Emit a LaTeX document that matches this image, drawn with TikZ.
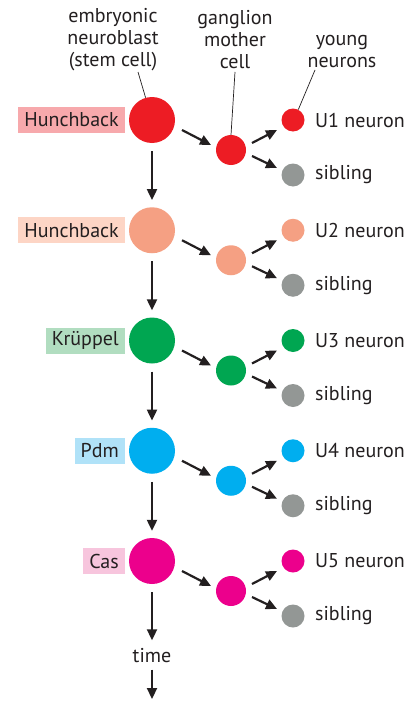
\documentclass[tikz,border=0pt]{standalone}
\usepackage{fontspec}
\setmainfont{PT Sans}
\usetikzlibrary{arrows.meta,calc}
\definecolor{txt}{HTML}{231F20}
\definecolor{cA}{HTML}{ED1C24}\definecolor{bA}{HTML}{F7A9AC}
\definecolor{cB}{HTML}{F5A083}\definecolor{bB}{HTML}{FDD5C5}
\definecolor{cC}{HTML}{00A651}\definecolor{bC}{HTML}{B1DDC0}
\definecolor{cD}{HTML}{00AEEF}\definecolor{bD}{HTML}{B0E2F8}
\definecolor{cE}{HTML}{EC008C}\definecolor{bE}{HTML}{F7C5DD}
\definecolor{cG}{HTML}{939795}
\begin{document}
\begin{tikzpicture}[x=1pt,y=-1pt,
  every node/.style={text=txt,font=\fontsize{20}{22}\selectfont},
  nbcell/.style={circle,inner sep=0pt,minimum size=46pt},
  gmccell/.style={circle,inner sep=0pt,minimum size=30pt},
  ncell/.style={circle,inner sep=0pt,minimum size=23pt},
  lbl/.style={anchor=east,minimum height=26pt,inner xsep=6pt,inner ysep=0pt},
  arr/.style={draw=txt,line width=2.2pt,-{Triangle[length=11pt,width=10pt]}},
  lead/.style={draw=txt,line width=0.7pt},
  head/.style={align=center}
]
\useasboundingbox (0,0) rectangle (419,701);
\fill[white] (0,0) rectangle (419,701);

% headers
\node[head] (h1) at (113,40) {embryonic\\neuroblast\\(stem cell)};
\node[head] (h2) at (235,40) {ganglion\\mother\\cell};
\node[head] (h3) at (342,51) {young\\neurons};

\foreach \i/\c/\b/\name/\u in {1/cA/bA/Hunchback/U1, 2/cB/bB/Hunchback/U2, 3/cC/bC/Krüppel/U3, 4/cD/bD/Pdm/U4, 5/cE/bE/Cas/U5}{
  \pgfmathsetmacro{\yy}{120+110.25*(\i-1)}
  \node[nbcell,fill=\c] (nb\i) at (152,\yy) {};
  \node[lbl,fill=\b] (lb\i) at (125,\yy) {\name};
  \node[gmccell,fill=\c] (gmc\i) at (231,\yy+30) {};
  \node[ncell,fill=\c] (ne\i) at (293,\yy) {};
  \node[ncell,fill=cG] (sb\i) at (293,\yy+55) {};
  \node[anchor=west,inner sep=0pt] (net\i) at (315,\yy) {\u\ neuron};
  \node[anchor=west,inner sep=0pt] (sbt\i) at (315,\yy+55) {sibling};
  \draw[arr] ($(nb\i)+(30,10)$) -- ($(gmc\i)+(-20,-5)$);
  \draw[arr] ($(gmc\i)+(21,-7)$) -- ($(ne\i)+(-16,10)$);
  \draw[arr] ($(gmc\i)+(21,6)$) -- ($(sb\i)+(-16,-7)$);
}
\foreach \i/\j in {1/2,2/3,3/4,4/5}{
  \draw[arr,shorten <=8pt,shorten >=7pt] (nb\i) -- (nb\j);
}
\node (time) at (152,656) {time};
\coordinate (tend) at (152,699);
\draw[arr,shorten <=8pt,shorten >=5pt] (nb5) -- (time);
\draw[arr,shorten <=3pt] (time) -- (tend);

% leader lines
\coordinate (l1) at (138,72);
\coordinate (l2) at (235,72);
\coordinate (l3) at (315,70);
\draw[lead] (l1) -- (nb1.106);
\draw[lead] (l2) -- (gmc1.north);
\draw[lead] (l3) -- (ne1.63);
\end{tikzpicture}
\end{document}
